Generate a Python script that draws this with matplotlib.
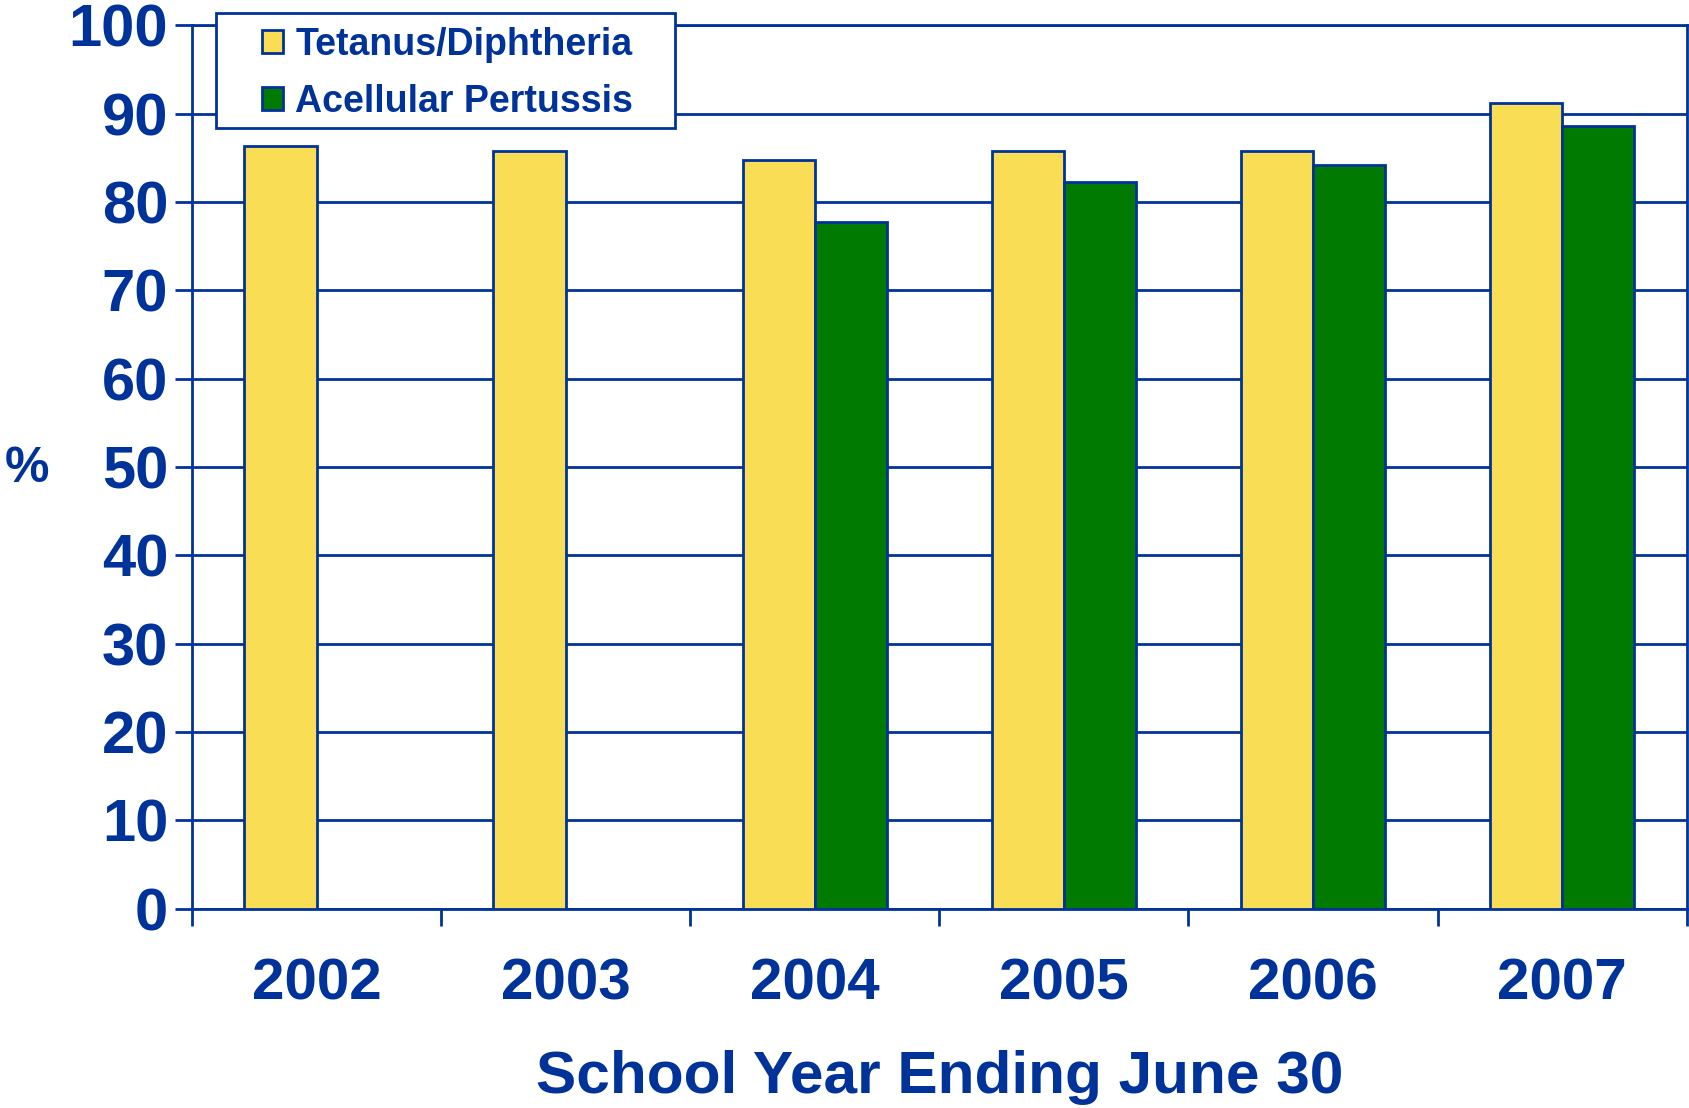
import matplotlib
matplotlib.use("Agg")
import matplotlib.pyplot as plt
import numpy as np
from matplotlib.patches import Patch, Rectangle

years = ["2002", "2003", "2004", "2005", "2006", "2007"]
tetanus_diphtheria = [86.3, 85.8, 84.8, 85.8, 85.8, 91.2]
acellular_pertussis = [np.nan, np.nan, 77.7, 82.3, 84.2, 88.6]
series_names = ["Tetanus/Diphtheria", "Acellular Pertussis"]
yticks = list(range(0, 101, 10))

BLUE = "#003399"
YELLOW = "#F9DE55"
GREEN = "#007A00"

plt.rcParams['font.family'] = ['Liberation Sans', 'DejaVu Sans']
plt.rcParams['font.weight'] = 'bold'

fig = plt.figure(figsize=(16.9, 11.08), dpi=100)
ax = fig.add_axes([0.1136, 0.180, 0.8844, 0.797])

x = np.arange(len(years))
w = 0.29
ax.bar(x - w/2, tetanus_diphtheria, width=w, color=YELLOW, edgecolor=BLUE, linewidth=2, zorder=3)
ap = np.array(acellular_pertussis, dtype=float)
mask = ~np.isnan(ap)
ax.bar(x[mask] + w/2, ap[mask], width=w, color=GREEN, edgecolor=BLUE, linewidth=2, zorder=3)

ax.set_xlim(-0.5, len(years) - 0.5)
ax.set_ylim(0, 100)
ax.set_yticks(yticks)
ax.set_yticklabels([str(t) for t in yticks])
ax.set_xticks(x)
ax.set_xticklabels(years)
ax.set_xticks(np.arange(-0.5, len(years), 1.0), minor=True)

ax.grid(axis='y', color=BLUE, linewidth=2, zorder=0)
ax.set_axisbelow(True)
for s in ax.spines.values():
    s.set_color(BLUE)
    s.set_linewidth(2)

ax.tick_params(axis='y', which='major', length=12, width=2, color=BLUE,
               labelcolor=BLUE, labelsize=43, pad=5, direction='out')
ax.tick_params(axis='x', which='major', length=0, labelcolor=BLUE, labelsize=42, pad=35)
ax.tick_params(axis='x', which='minor', length=12, width=2, color=BLUE, direction='out')
for lbl in ax.get_xticklabels() + ax.get_yticklabels():
    lbl.set_fontweight('bold')

ax.set_xlabel("School Year Ending June 30", fontsize=43.5, fontweight='bold', color=BLUE, labelpad=28)
fig.text(0.003, 0.577, "%", fontsize=36, fontweight='bold', color=BLUE, ha='left', va='center')

# legend frame
W, H = 1690.0, 1108.0
frame = Rectangle((216 / W, 1 - 128 / H), (675 - 216) / W, (128 - 13) / H,
                  transform=fig.transFigure, facecolor='white', edgecolor=BLUE,
                  linewidth=2, zorder=9)
fig.add_artist(frame)

handles = [Patch(facecolor=YELLOW, edgecolor=BLUE, linewidth=2, label=series_names[0]),
           Patch(facecolor=GREEN, edgecolor=BLUE, linewidth=2, label=series_names[1])]
leg = fig.legend(handles=handles, loc='upper left', bbox_to_anchor=(262 / W, 1 - 27 / H),
                 bbox_transform=fig.transFigure, fontsize=27, frameon=False,
                 borderaxespad=0, borderpad=0, handlelength=0.57, handleheight=0.57,
                 handletextpad=0.32, labelspacing=0.55)
leg.set_zorder(10)
for t in leg.get_texts():
    t.set_color(BLUE)
    t.set_fontweight('bold')

fig.savefig("out.png", dpi=100)
